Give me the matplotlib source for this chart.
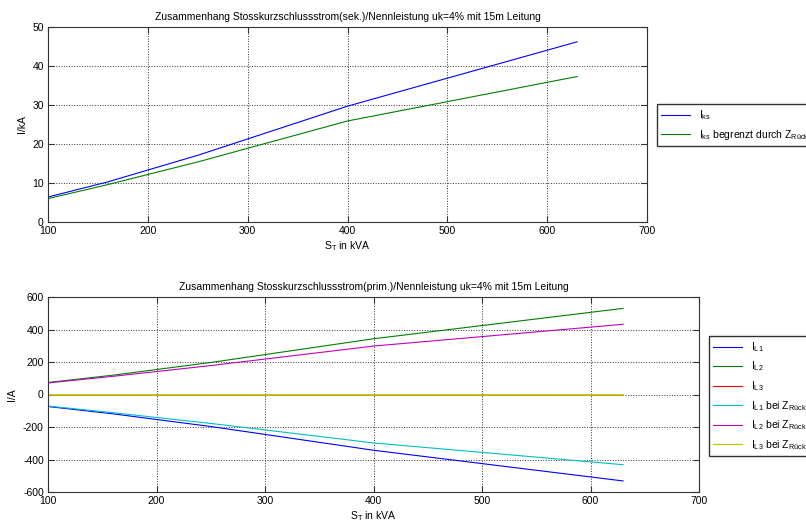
import numpy             as np
import matplotlib.pyplot as plt

plt.rcParams['font.family'] = ['Liberation Sans', 'DejaVu Sans']
plt.rcParams['mathtext.fontset'] = 'custom'
plt.rcParams['mathtext.rm'] = 'Liberation Sans'
plt.rcParams['mathtext.it'] = 'Liberation Sans'
plt.rcParams['axes.unicode_minus'] = False

# transformer ratings [kVA]
st      = [100, 160, 250, 400, 630]
# secondary short-circuit current [kA]
iks     = [6.4, 10.3, 17.1, 29.7, 46.2]
iks_z   = [6.0,  9.6, 15.4, 25.9, 37.3]
# primary currents [A]
il1     = [-74, -119, -197, -343, -532]
il2     = [ 74,  119,  197,  343,  530]
il3     = [  0,    0,    0,    0,    0]
il1_z   = [-71, -112, -178, -298, -432]
il2_z   = [ 71,  112,  178,  298,  432]
il3_z   = [  0,    0,    0,    0,    0]

mb = (0, 0, 1)
mg = (0, 0.5, 0)
mr = (1, 0, 0)
mc = (0, 0.75, 0.75)
mm = (0.75, 0, 0.75)
my = (0.75, 0.75, 0)

fs  = 7.5
lfs = 7.5
fig = plt.figure(figsize=(8.06, 5.25), dpi=100)
W, H = 806., 525.

def style(ax, yt):
    ax.set_xlim(100, 700)
    ax.set_xticks([100, 200, 300, 400, 500, 600, 700])
    ax.set_yticks(yt)
    ax.set_ylim(yt[0], yt[-1])
    ax.grid(True, linestyle=':', color='#333333', linewidth=0.7)
    ax.tick_params(direction='in', top=True, right=True, labelsize=fs, length=4,
                   color='#333333', pad=3)
    for s in ax.spines.values():
        s.set_color('#333333')
        s.set_linewidth(0.8)

# ---- top: secondary side
ax1 = fig.add_axes([48/W, 1-222/H, (647-48)/W, (222-27)/H])
ax1.plot(st, iks,   color=mb, linewidth=0.8, label=r'$\mathregular{I_{ks}}$')
ax1.plot(st, iks_z, color=mg, linewidth=0.8,
         label=r'$\mathregular{I_{ks}}$ begrenzt durch $\mathregular{Z_{Rück}}$')
style(ax1, [0, 10, 20, 30, 40, 50])
ax1.set_title('Zusammenhang Stosskurzschlussstrom(sek.)/Nennleistung uk=4% mit 15m Leitung',
              fontsize=fs, pad=5)
ax1.set_ylabel('I/kA', fontsize=fs)
ax1.set_xlabel(r'$\mathregular{S_T}$ in kVA', fontsize=fs, labelpad=2)
leg1 = ax1.legend(loc='upper left', bbox_to_anchor=(657/W, 1-104/H),
                  bbox_transform=fig.transFigure, fontsize=lfs, fancybox=False,
                  handlelength=2.8, borderaxespad=0, framealpha=1, labelspacing=0.55)
leg1.get_frame().set_edgecolor('#333333')

# ---- bottom: primary side
ax2 = fig.add_axes([48/W, 1-492/H, (699-48)/W, (492-297)/H])
ax2.plot(st, il1,   color=mb, linewidth=0.8, label=r'$\mathregular{I_{L1}}$')
ax2.plot(st, il2,   color=mg, linewidth=0.8, label=r'$\mathregular{I_{L2}}$')
ax2.plot(st, il3,   color=mr, linewidth=0.5, label=r'$\mathregular{I_{L3}}$')
ax2.plot(st, il1_z, color=mc, linewidth=0.8, label=r'$\mathregular{I_{L1}}$ bei $\mathregular{Z_{Rück}}$')
ax2.plot(st, il2_z, color=mm, linewidth=0.8, label=r'$\mathregular{I_{L2}}$ bei $\mathregular{Z_{Rück}}$')
ax2.plot(st, il3_z, color=my, linewidth=1.2, label=r'$\mathregular{I_{L3}}$ bei $\mathregular{Z_{Rück}}$')
style(ax2, [-600, -400, -200, 0, 200, 400, 600])
ax2.set_title('Zusammenhang Stosskurzschlussstrom(prim.)/Nennleistung uk=4% mit 15m Leitung',
              fontsize=fs, pad=5)
ax2.set_ylabel('I/A', fontsize=fs)
ax2.set_xlabel(r'$\mathregular{S_T}$ in kVA', fontsize=fs, labelpad=2)
leg2 = ax2.legend(loc='upper left', bbox_to_anchor=(709/W, 1-336/H),
                  bbox_transform=fig.transFigure, fontsize=lfs, fancybox=False,
                  handlelength=2.8, borderaxespad=0, framealpha=1, labelspacing=0.55)
leg2.get_frame().set_edgecolor('#333333')
for h in leg2.get_lines():
    h.set_linewidth(0.8)

plt.savefig('out.png')
